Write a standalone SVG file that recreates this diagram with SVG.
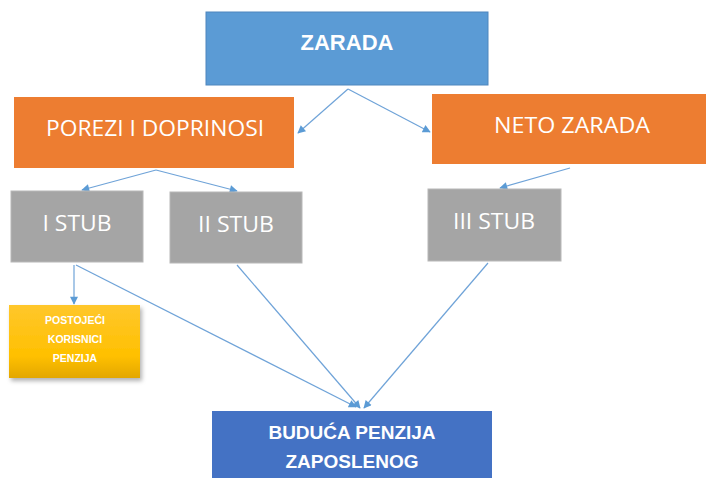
<svg xmlns="http://www.w3.org/2000/svg" width="706" height="478" viewBox="0 0 706 478">
<style>
.lbl{fill:#fff;font-family:"Open Sans","Liberation Sans",sans-serif;text-anchor:middle}
.bold{fill:#fff;font-family:"Liberation Sans",Arial,sans-serif;font-weight:bold;text-anchor:middle}
.con{stroke:#6fa3d8;stroke-width:1.2;fill:none;marker-end:url(#ah)}
.grey{fill:#a5a5a5;stroke:#b8b8b8;stroke-width:1}
.orange{fill:#ed7d31}
</style>
<defs>
<marker id="ah" viewBox="0 0 10 10" refX="9" refY="5" markerWidth="10" markerHeight="8" markerUnits="userSpaceOnUse" orient="auto">
<path d="M0,0 L10,5 L0,10 z" fill="#5b9bd5"/>
</marker>
<linearGradient id="gold" x1="0" y1="0" x2="0" y2="1">
<stop offset="0" stop-color="#ffc72c"/>
<stop offset="0.7" stop-color="#ffc000"/>
<stop offset="1" stop-color="#e3a700"/>
</linearGradient>
<filter id="sh" x="-10%" y="-10%" width="130%" height="130%">
<feDropShadow dx="2" dy="3" stdDeviation="2" flood-color="#000" flood-opacity="0.3"/>
</filter>
</defs>
<g id="connectors">
<polyline class="con" points="348,89 298,133"/>
<polyline class="con" points="348,89 430,132"/>
<polyline class="con" points="156,170 82,190"/>
<polyline class="con" points="156,170 237,191"/>
<polyline class="con" points="570,168 500,188"/>
<polyline class="con" points="74,265 74,304"/>
<polyline class="con" points="76,265 356,407"/>
<polyline class="con" points="237,265 360,408"/>
<polyline class="con" points="488,263 364,408"/>
</g>
<g id="zarada">
<rect x="206" y="12" width="282" height="73" fill="#5b9bd5" stroke="#4f86bd" stroke-width="1"/>
<text class="bold" x="347" y="50" font-size="22">ZARADA</text>
</g>
<g id="porezi">
<rect class="orange" x="14" y="97" width="280" height="71"/>
<text class="lbl" x="155" y="136" font-size="22" textLength="218" lengthAdjust="spacingAndGlyphs">POREZI I DOPRINOSI</text>
</g>
<g id="neto">
<rect class="orange" x="432" y="94" width="274" height="70"/>
<text class="lbl" x="572" y="133" font-size="22" textLength="156" lengthAdjust="spacingAndGlyphs">NETO ZARADA</text>
</g>
<g id="stub1">
<rect class="grey" x="11" y="191" width="132" height="71"/>
<text class="lbl" x="77" y="231" font-size="22" textLength="69" lengthAdjust="spacingAndGlyphs">I STUB</text>
</g>
<g id="stub2">
<rect class="grey" x="170" y="192" width="132" height="71"/>
<text class="lbl" x="236" y="232" font-size="22" textLength="76" lengthAdjust="spacingAndGlyphs">II STUB</text>
</g>
<g id="stub3">
<rect class="grey" x="428" y="189" width="133" height="72"/>
<text class="lbl" x="494" y="229" font-size="22" textLength="82" lengthAdjust="spacingAndGlyphs">III STUB</text>
</g>
<g id="postojeci">
<rect x="9" y="305" width="131" height="73" fill="url(#gold)" filter="url(#sh)"/>
<text class="bold" x="75" y="324" font-size="10.5">POSTOJEĆI</text>
<text class="bold" x="75" y="343" font-size="10.5">KORISNICI</text>
<text class="bold" x="75" y="362" font-size="10.5">PENZIJA</text>
</g>
<g id="buduca">
<rect x="212" y="411" width="280" height="67" fill="#4472c4"/>
<text class="bold" x="352" y="439" font-size="19">BUDUĆA PENZIJA</text>
<text class="bold" x="352" y="468" font-size="19">ZAPOSLENOG</text>
</g>
</svg>
